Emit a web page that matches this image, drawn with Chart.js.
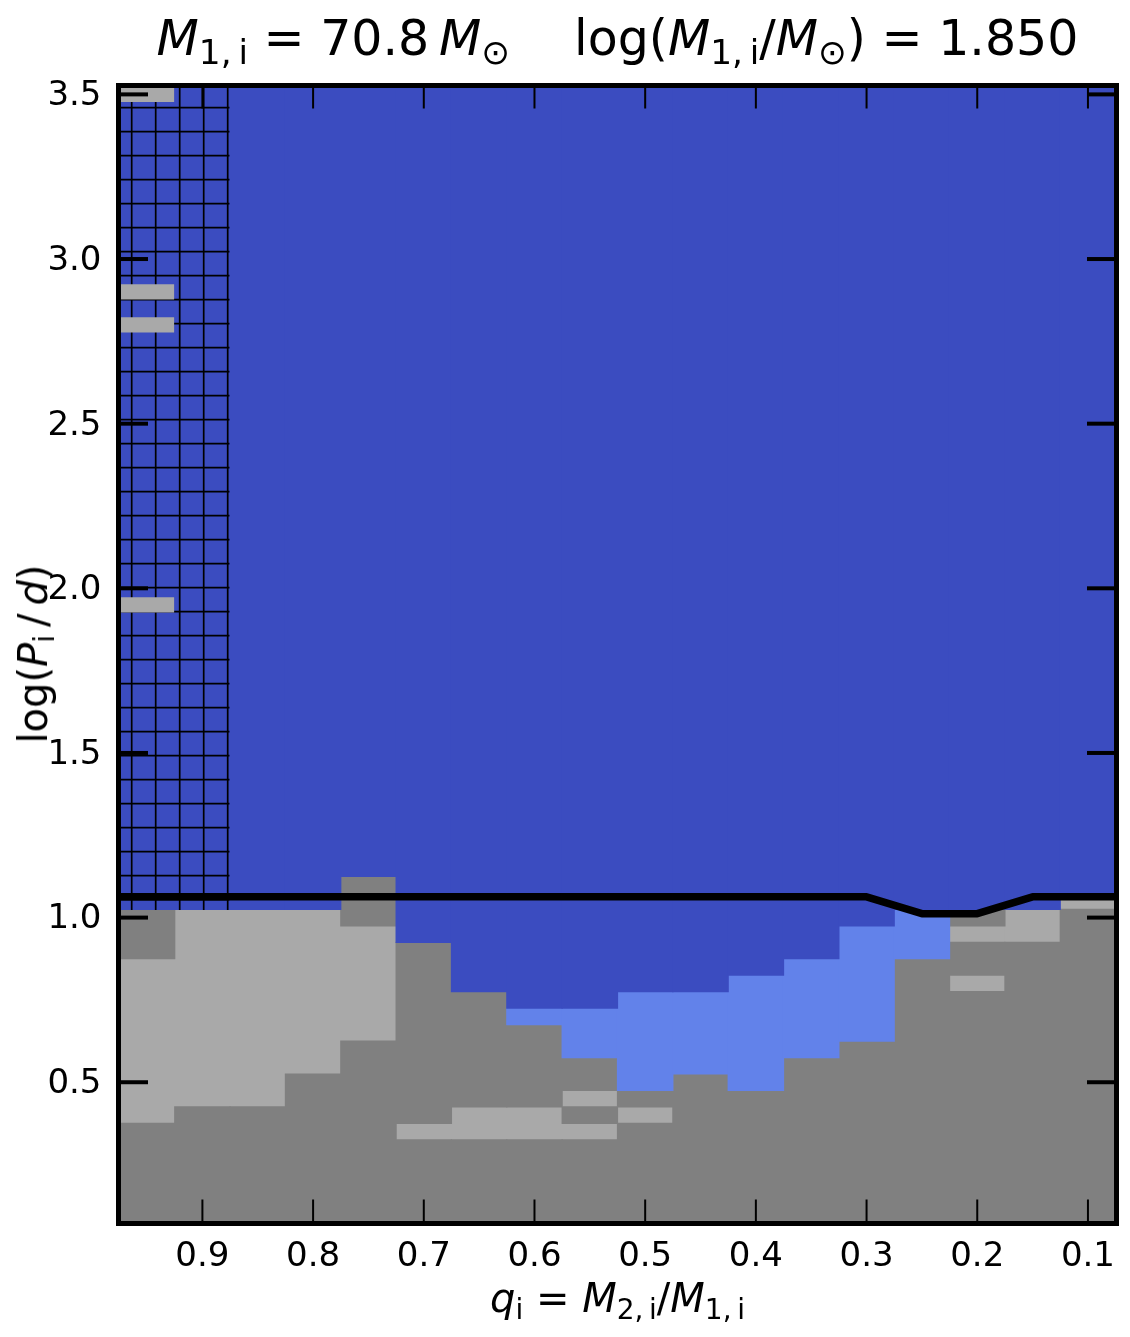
<!DOCTYPE html>
<html>
<head>
<meta charset="utf-8">
<script src="https://cdn.jsdelivr.net/npm/chart.js@4.4.0/dist/chart.umd.min.js"></script>
<style>
  body { margin: 0; background: #fff; }
  #wrap { position: relative; width: 1130px; height: 1337px; font-family: "DejaVu Sans", sans-serif; color: #000; }
  #c { position: absolute; left: 0; top: 0; }
  .lbl { position: absolute; white-space: nowrap; line-height: 1; }
  .lbl i { font-style: italic; }
  .lbl sub { font-size: 70%; line-height: 0; vertical-align: -0.25em; }
  #title { left: 617.5px; top: 13.5px; font-size: 49px; transform: translateX(-50%); }
  #xlabel { left: 617.5px; top: 1278px; font-size: 40px; transform: translateX(-50%); }
  #ylabel { left: 33px; top: 654px; font-size: 40px; transform: translate(-50%, -50%) rotate(-90deg); }
  .gap { display: inline-block; width: 64px; }
</style>
</head>
<body>
<div id="wrap">
  <canvas id="c" width="1130" height="1337"></canvas>
  <div class="lbl" id="title"><i>M</i><sub>1,&thinsp;i</sub> = 70.8&thinsp;<i>M</i><sub>⊙</sub><span class="gap"></span>log(<i>M</i><sub>1,&thinsp;i</sub>/<i>M</i><sub>⊙</sub>) = 1.850</div>
  <div class="lbl" id="xlabel"><i>q</i><sub>i</sub> = <i>M</i><sub>2,&thinsp;i</sub>/<i>M</i><sub>1,&thinsp;i</sub></div>
  <div class="lbl" id="ylabel">log(<i>P</i><sub>i</sub>&thinsp;/&thinsp;<i>d</i>)</div>
</div>
<script>
// grid cells: [q, lowest cell centre in log P, highest cell centre in log P]
const darkGrayRuns = [
  [0.95, 0.10, 0.35], [0.95, 0.90, 1.00],
  [0.90, 0.10, 0.40], [0.85, 0.10, 0.40], [0.80, 0.10, 0.50],
  [0.75, 0.10, 0.60], [0.75, 1.00, 1.10],
  [0.70, 0.10, 0.30], [0.70, 0.40, 0.90],
  [0.65, 0.10, 0.30], [0.65, 0.45, 0.75],
  [0.60, 0.10, 0.30], [0.60, 0.45, 0.65],
  [0.55, 0.10, 0.30], [0.55, 0.40, 0.40], [0.55, 0.50, 0.55],
  [0.50, 0.10, 0.35], [0.50, 0.45, 0.45],
  [0.45, 0.10, 0.50], [0.40, 0.10, 0.45], [0.35, 0.10, 0.55], [0.30, 0.10, 0.60],
  [0.25, 0.10, 0.85],
  [0.20, 0.10, 0.75], [0.20, 0.85, 0.90], [0.20, 1.00, 1.00],
  [0.15, 0.10, 0.90], [0.10, 0.10, 1.00]
];
const lightGrayRuns = [
  [0.95, 0.40, 0.85], [0.95, 1.95, 1.95], [0.95, 2.80, 2.80], [0.95, 2.90, 2.90], [0.95, 3.50, 3.50],
  [0.90, 0.45, 1.00], [0.85, 0.45, 1.00], [0.80, 0.55, 1.00], [0.75, 0.65, 0.95],
  [0.70, 0.35, 0.35], [0.65, 0.35, 0.40], [0.60, 0.35, 0.40],
  [0.55, 0.35, 0.35], [0.55, 0.45, 0.45], [0.50, 0.40, 0.40],
  [0.20, 0.80, 0.80], [0.20, 0.95, 0.95], [0.15, 0.95, 1.00], [0.10, 1.05, 1.05]
];
const lightBlueRuns = [
  [0.60, 0.70, 0.70], [0.55, 0.60, 0.70], [0.50, 0.50, 0.75], [0.45, 0.55, 0.75],
  [0.40, 0.50, 0.80], [0.35, 0.60, 0.85], [0.30, 0.65, 0.95], [0.25, 0.90, 1.00]
];
const blueRuns = [
  [0.85, 1.05, 3.50], [0.80, 1.05, 3.50], [0.75, 1.15, 3.50], [0.70, 0.95, 3.50],
  [0.65, 0.80, 3.50], [0.60, 0.75, 3.50], [0.55, 0.75, 3.50], [0.50, 0.80, 3.50],
  [0.45, 0.80, 3.50], [0.40, 0.85, 3.50], [0.35, 0.90, 3.50], [0.30, 1.00, 3.50],
  [0.25, 1.05, 3.50], [0.20, 1.05, 3.50], [0.15, 1.05, 3.50], [0.10, 1.10, 3.50]
];
const hatchedRuns = [
  [0.95, 1.05, 1.90], [0.95, 2.00, 2.75], [0.95, 2.85, 2.85], [0.95, 2.95, 3.45],
  [0.90, 1.05, 3.50]
];

// boundary line
const lineQ = [0.976, 0.95, 0.90, 0.85, 0.80, 0.75, 0.70, 0.65, 0.60, 0.55, 0.50, 0.45, 0.40, 0.35, 0.30, 0.25, 0.20, 0.15, 0.10, 0.074];
const lineLogP = [1.063, 1.063, 1.063, 1.063, 1.063, 1.063, 1.063, 1.063, 1.063, 1.063, 1.063, 1.063, 1.063, 1.063, 1.063, 1.012, 1.012, 1.063, 1.063, 1.063];

const xTicks = [0.9, 0.8, 0.7, 0.6, 0.5, 0.4, 0.3, 0.2, 0.1];
const yTicks = [0.5, 1.0, 1.5, 2.0, 2.5, 3.0, 3.5];

const cellHalf = 0.025;
const BLUE = '#3b4cc0';
const LIGHT_BLUE = '#6282ea';
const GRAY = '#808080';
const LIGHT_GRAY = '#a9a9a9';

const ctx = document.getElementById('c');

// "+" hatch used on the blue cells of the two left-most columns
function makeHatch() {
  const p = document.createElement('canvas');
  p.width = 24;
  p.height = 24;
  const g = p.getContext('2d');
  g.fillStyle = BLUE;
  g.fillRect(0, 0, 24, 24);
  g.strokeStyle = '#000';
  g.lineWidth = 1.7;
  g.beginPath();
  g.moveTo(11.7, 0); g.lineTo(11.7, 24);
  g.moveTo(0, 11.7); g.lineTo(24, 11.7);
  g.stroke();
  return ctx.getContext('2d').createPattern(p, 'repeat');
}

function runsToBars(runs) {
  return runs.map(r => ({ x: r[0], y: [r[1] - cellHalf, r[2] + cellHalf] }));
}

function cellSet(label, runs, color) {
  return {
    type: 'bar',
    label: label,
    data: runsToBars(runs),
    backgroundColor: color,
    borderWidth: 0,
    inflateAmount: 0.6,
    grouped: false,
    categoryPercentage: 1.0,
    barPercentage: 1.0,
    order: 2
  };
}

// frame and inward ticks on all four sides
const framePlugin = {
  id: 'frame',
  afterDatasetsDraw(chart) {
    const c = chart.ctx;
    const a = chart.chartArea;
    const x = chart.scales.x;
    const y = chart.scales.y;
    c.save();
    c.strokeStyle = '#000';
    c.lineCap = 'butt';
    const seg = (x0, y0, x1, y1) => { c.beginPath(); c.moveTo(x0, y0); c.lineTo(x1, y1); c.stroke(); };
    c.lineWidth = 2;
    x.ticks.forEach(t => {
      const px = x.getPixelForValue(t.value);
      seg(px, a.bottom, px, a.bottom - 24);
      seg(px, a.top, px, a.top + 23);
    });
    c.lineWidth = 4;
    y.ticks.forEach(t => {
      const py = y.getPixelForValue(t.value);
      seg(a.left, py, a.left + 29.5, py);
      seg(a.right, py, a.right - 29.5, py);
    });
    c.lineWidth = 5;
    c.strokeRect(a.left, a.top, a.right - a.left, a.bottom - a.top);
    c.restore();
  }
};

const tickFont = { family: 'DejaVu Sans', size: 34 };

new Chart(ctx, {
  type: 'bar',
  data: {
    datasets: [
      {
        type: 'line',
        label: 'boundary',
        data: lineQ.map((q, i) => ({ x: q, y: lineLogP[i] })),
        borderColor: '#000',
        borderWidth: 7.5,
        borderJoinStyle: 'round',
        pointRadius: 0,
        fill: false,
        tension: 0,
        order: 1
      },
      cellSet('blue', blueRuns, BLUE),
      cellSet('hatched', hatchedRuns, makeHatch()),
      cellSet('light blue', lightBlueRuns, LIGHT_BLUE),
      cellSet('dark gray', darkGrayRuns, GRAY),
      cellSet('light gray', lightGrayRuns, LIGHT_GRAY)
    ]
  },
  options: {
    responsive: false,
    animation: false,
    events: [],
    layout: { padding: { left: 0, top: 85.5, right: 13.5, bottom: 0 } },
    plugins: { legend: { display: false }, tooltip: { enabled: false } },
    scales: {
      x: {
        type: 'linear',
        reverse: true,
        offset: false,
        min: 0.0742,
        max: 0.9758,
        grid: { display: false, drawTicks: false },
        border: { display: false },
        afterBuildTicks: s => { s.ticks = xTicks.map(v => ({ value: v })); },
        afterFit: s => { s.height = 113.5; },
        ticks: {
          autoSkip: false,
          maxRotation: 0,
          padding: 13,
          color: '#000',
          font: tickFont,
          callback: v => v.toFixed(1)
        }
      },
      y: {
        type: 'linear',
        min: 0.071,
        max: 3.527,
        grid: { display: false, drawTicks: false },
        border: { display: false },
        afterBuildTicks: s => { s.ticks = yTicks.map(v => ({ value: v })); },
        afterFit: s => { s.width = 118.5; },
        ticks: {
          autoSkip: false,
          padding: 17,
          labelOffset: 2,
          color: '#000',
          font: tickFont,
          callback: v => v.toFixed(1)
        }
      }
    }
  },
  plugins: [framePlugin]
});
</script>
</body>
</html>
